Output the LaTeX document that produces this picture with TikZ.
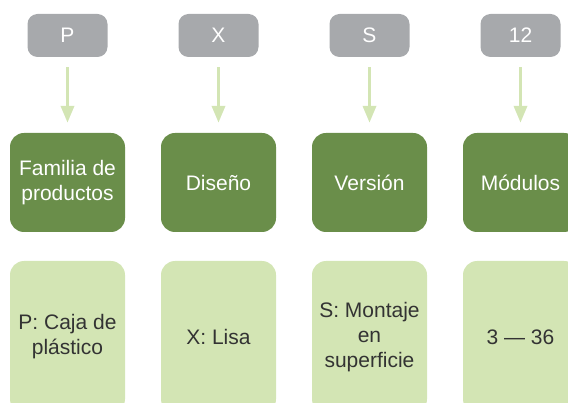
\documentclass[tikz,border=0pt]{standalone}
\usepackage{fontspec}
\setmainfont{Liberation Sans}
\usetikzlibrary{arrows.meta}
\definecolor{codegray}{HTML}{A7A9AC}
\definecolor{darkgreen}{HTML}{6A8E4A}
\definecolor{lightgreen}{HTML}{D3E5B4}
\definecolor{textgray}{HTML}{333333}
\tikzset{
  x=1pt, y=1pt,
  every node/.style={font=\fontsize{21}{25}\selectfont, align=center, inner sep=0pt},
  codebox/.style={fill=codegray, rounded corners=10pt, minimum width=80pt, minimum height=43pt, text=white},
  catbox/.style={fill=darkgreen, rounded corners=14pt, minimum width=115pt, minimum height=99pt, text=white},
  valbox/.style={fill=lightgreen, rounded corners=14pt, minimum width=115pt, minimum height=152pt, text=textgray},
  flow/.style={draw=lightgreen, line width=3.5pt, -{Triangle[width=13pt,length=17pt]}, shorten <=10pt, shorten >=10pt}
}
\begin{document}
\begin{tikzpicture}
\useasboundingbox (0,0) rectangle (568,-403);
\begin{scope}
\clip (0,0) rectangle (568,-403);
% codes
\node[codebox] (g1) at (67.5,-35.5) {P};
\node[codebox] (g2) at (218.5,-35.5) {X};
\node[codebox] (g3) at (369.5,-35.5) {S};
\node[codebox] (g4) at (520.5,-35.5) {12};
% categories
\node[catbox] (c1) at (67.5,-182.5) {Familia de\\productos};
\node[catbox] (c2) at (218.5,-182.5) {Diseño};
\node[catbox] (c3) at (369.5,-182.5) {Versión};
\node[catbox] (c4) at (520.5,-182.5) {Módulos};
% values
\node[valbox] (v1) at (67.5,-337) {P: Caja de\\plástico};
\node[valbox] (v2) at (218.5,-337) {X: Lisa};
\node[valbox] (v3) at (369.5,-337) {S: Montaje\\en\\superficie};
\node[valbox] (v4) at (520.5,-337) {3 — 36};
% arrows
\draw[flow] (g1.south) -- (c1.north);
\draw[flow] (g2.south) -- (c2.north);
\draw[flow] (g3.south) -- (c3.north);
\draw[flow] (g4.south) -- (c4.north);
\end{scope}
\end{tikzpicture}
\end{document}
